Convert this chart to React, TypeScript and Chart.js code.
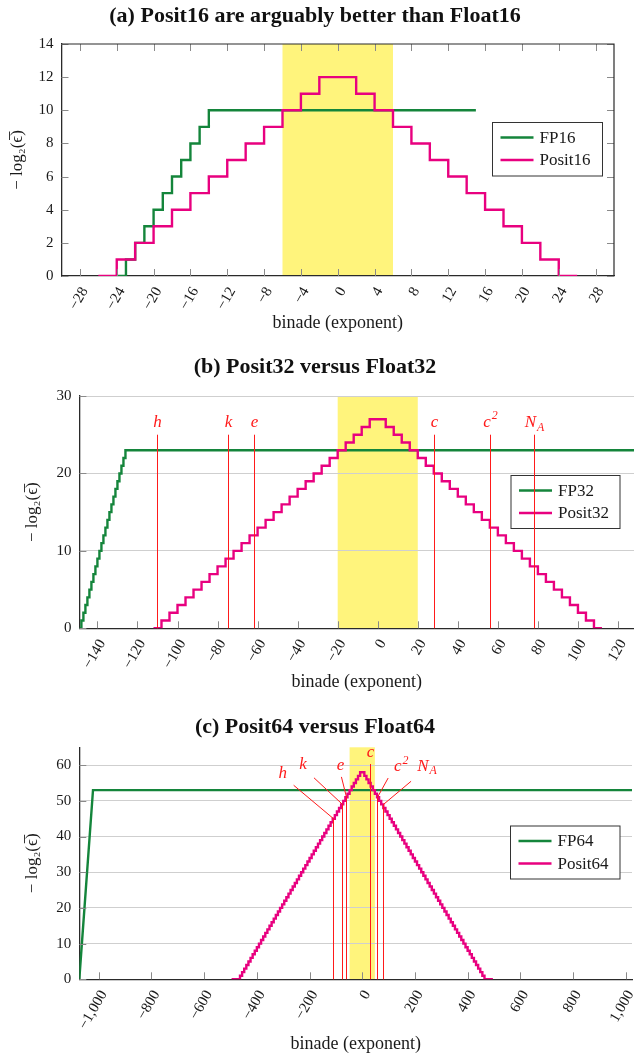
import { useEffect, useRef } from "react";
import { Chart, registerables } from "chart.js";

Chart.register(...registerables);

// ---------- data ----------

// (a) 16-bit: bits of precision per binade
const fp16Edges = [-24, -23, -22, -21, -20, -19, -18, -17, -16, -15, -14, 15];
const fp16Bits = [0, 1, 2, 3, 4, 5, 6, 7, 8, 9, 10];
const posit16Edges = [
	-26, -24, -22, -20, -18, -16, -14, -12, -10, -8, -6, -4, -2, 2, 4, 6, 8, 10, 12, 14, 16, 18, 20, 22, 24, 26,
];
const posit16Bits = [0, 1, 2, 3, 4, 5, 6, 7, 8, 9, 10, 11, 12, 11, 10, 9, 8, 7, 6, 5, 4, 3, 2, 1, 0];
const xTicks16 = [-28, -24, -20, -16, -12, -8, -4, 0, 4, 8, 12, 16, 20, 24, 28];
const yTicks16 = [0, 2, 4, 6, 8, 10, 12, 14];
const band16 = [-6, 6];

// (b) 32-bit
const fp32Edges = [
	-149, -148, -147, -146, -145, -144, -143, -142, -141, -140, -139, -138, -137, -136, -135, -134, -133, -132, -131,
	-130, -129, -128, -127, -126, 128,
];
const fp32Bits = [0, 1, 2, 3, 4, 5, 6, 7, 8, 9, 10, 11, 12, 13, 14, 15, 16, 17, 18, 19, 20, 21, 22, 23];
const posit32Edges = [
	-112, -108, -104, -100, -96, -92, -88, -84, -80, -76, -72, -68, -64, -60, -56, -52, -48, -44, -40, -36, -32, -28,
	-24, -20, -16, -12, -8, -4, 4, 8, 12, 16, 20, 24, 28, 32, 36, 40, 44, 48, 52, 56, 60, 64, 68, 72, 76, 80, 84, 88, 92,
	96, 100, 104, 108, 112,
];
const posit32Bits = [
	0, 1, 2, 3, 4, 5, 6, 7, 8, 9, 10, 11, 12, 13, 14, 15, 16, 17, 18, 19, 20, 21, 22, 23, 24, 25, 26, 27, 26, 25, 24, 23,
	22, 21, 20, 19, 18, 17, 16, 15, 14, 13, 12, 11, 10, 9, 8, 7, 6, 5, 4, 3, 2, 1, 0,
];
const xTicks32 = [-140, -120, -100, -80, -60, -40, -20, 0, 20, 40, 60, 80, 100, 120];
const yTicks32 = [0, 10, 20, 30];
const band32 = [-20, 20];

// (c) 64-bit
const fp64X = [-1074, -1022, 1024];
const fp64Bits = [0, 53, 53];
const posit64Edges = [
	-496, -464, -456, -448, -440, -432, -424, -416, -408, -400, -392, -384, -376, -368, -360, -352, -344, -336, -328,
	-320, -312, -304, -296, -288, -280, -272, -264, -256, -248, -240, -232, -224, -216, -208, -200, -192, -184, -176,
	-168, -160, -152, -144, -136, -128, -120, -112, -104, -96, -88, -80, -72, -64, -56, -48, -40, -32, -24, -16, -8, 8,
	16, 24, 32, 40, 48, 56, 64, 72, 80, 88, 96, 104, 112, 120, 128, 136, 144, 152, 160, 168, 176, 184, 192, 200, 208,
	216, 224, 232, 240, 248, 256, 264, 272, 280, 288, 296, 304, 312, 320, 328, 336, 344, 352, 360, 368, 376, 384, 392,
	400, 408, 416, 424, 432, 440, 448, 456, 464, 496,
];
const posit64Bits = [
	0, 1, 2, 3, 4, 5, 6, 7, 8, 9, 10, 11, 12, 13, 14, 15, 16, 17, 18, 19, 20, 21, 22, 23, 24, 25, 26, 27, 28, 29, 30, 31,
	32, 33, 34, 35, 36, 37, 38, 39, 40, 41, 42, 43, 44, 45, 46, 47, 48, 49, 50, 51, 52, 53, 54, 55, 56, 57, 58, 57, 56,
	55, 54, 53, 52, 51, 50, 49, 48, 47, 46, 45, 44, 43, 42, 41, 40, 39, 38, 37, 36, 35, 34, 33, 32, 31, 30, 29, 28, 27,
	26, 25, 24, 23, 22, 21, 20, 19, 18, 17, 16, 15, 14, 13, 12, 11, 10, 9, 8, 7, 6, 5, 4, 3, 2, 1, 0,
];
const xTicks64 = [-1000, -800, -600, -400, -200, 0, 200, 400, 600, 800, 1000];
const yTicks64 = [0, 10, 20, 30, 40, 50, 60];
const band64 = [-48, 48];

// physical constants: label and binade (log2, truncated)
const constantLabels = ["h", "k", "e", "c", "c^2", "N_A"];
const constantExps = [-110, -75, -62, 28, 56, 78];
const constantLineTop32 = 25;

// pin styling for panel (c): angle (deg), length (px), label offset (px)
const pinAngles = [140, 137, 104, 90, 61, 40];
const pinLengths = [52, 39, 21, 19, 22, 36];
const pinLabelOffsets = [
	[-11, -12],
	[-11, -13],
	[-1, -11],
	[0, -11],
	[13, -11],
	[16, -15],
];

// ---------- styling ----------
const FONT = '"Liberation Serif", "DejaVu Serif", serif';
const GREEN = "#14853b";
const PINK = "#e8007f";
const BAND = "#fff47c";
const RED = "#ff1a1a";
const AXIS = "#2a2a2a";
const TICK = "#8a8a8a";
const GRID = "#cfcfcf";
const Y_TITLE = "\u2212 log\u2082(\u03F5\u0305)";

type Pt = { x: number; y: number };
type Series = { label: string; color: string; points: Pt[]; stepped: boolean };
type Box = { left: number; top: number; right: number; bottom: number };
type PanelSpec = {
	title: string;
	titleY: number;
	height: number;
	area: Box;
	xMin: number;
	xMax: number;
	yMin: number;
	yMax: number;
	xTicks: number[];
	yTicks: number[];
	band: number[];
	series: Series[];
	frame: boolean;
	grid: boolean;
	legend: Box;
	constants: "none" | "lines" | "pins";
	xTitlePad: number;
	yTitlePad: number;
};

// one point per binade edge; the value holds until the next edge
function stepPoints(edges: number[], values: number[]): Pt[] {
	const pts = values.map((v, i) => ({ x: edges[i], y: v }));
	pts.push({ x: edges[edges.length - 1], y: values[values.length - 1] });
	return pts;
}

function valueAt(edges: number[], values: number[], x: number) {
	for (let i = 0; i < values.length; i++) {
		if (x >= edges[i] && x < edges[i + 1]) return values[i];
	}
	return 0;
}

function tickText(v: string | number) {
	const n = Number(v);
	const s = Math.abs(n).toLocaleString("en-US");
	return n < 0 ? `\u2212${s}` : s;
}

function drawMathLabel(ctx: CanvasRenderingContext2D, text: string, cx: number, cy: number, size: number) {
	const [base, sup] = text.split("^");
	const [b, sub] = base.split("_");
	const script = sup ?? sub ?? "";
	ctx.font = `italic ${size}px ${FONT}`;
	const wb = ctx.measureText(b).width;
	ctx.font = `italic ${size * 0.7}px ${FONT}`;
	const ws = script ? ctx.measureText(script).width + 1 : 0;
	const x0 = cx - (wb + ws) / 2;
	ctx.textAlign = "left";
	ctx.textBaseline = "middle";
	ctx.font = `italic ${size}px ${FONT}`;
	ctx.fillText(b, x0, cy);
	if (script) {
		ctx.font = `italic ${size * 0.7}px ${FONT}`;
		ctx.fillText(script, x0 + wb + 1, sup ? cy - size * 0.38 : cy + size * 0.3);
	}
}

const panels: PanelSpec[] = [
	{
		title: "(a) Posit16 are arguably better than Float16",
		titleY: 16,
		height: 345,
		area: { left: 61.5, top: 44, right: 614, bottom: 276 },
		xMin: -30,
		xMax: 30,
		yMin: 0,
		yMax: 14,
		xTicks: xTicks16,
		yTicks: yTicks16,
		band: band16,
		series: [
			{ label: "FP16", color: GREEN, points: stepPoints(fp16Edges, fp16Bits), stepped: true },
			{ label: "Posit16", color: PINK, points: stepPoints(posit16Edges, posit16Bits), stepped: true },
		],
		frame: true,
		grid: false,
		legend: { left: 492.5, top: 122.5, right: 602.5, bottom: 176 },
		constants: "none",
		xTitlePad: 11,
		yTitlePad: 7,
	},
	{
		title: "(b) Posit32 versus Float32",
		titleY: 22.5,
		height: 355,
		area: { left: 79.4, top: 51, right: 634, bottom: 283.3 },
		xMin: -149,
		xMax: 128,
		yMin: 0,
		yMax: 30,
		xTicks: xTicks32,
		yTicks: yTicks32,
		band: band32,
		series: [
			{ label: "FP32", color: GREEN, points: stepPoints(fp32Edges, fp32Bits), stepped: true },
			{ label: "Posit32", color: PINK, points: stepPoints(posit32Edges, posit32Bits), stepped: true },
		],
		frame: false,
		grid: true,
		legend: { left: 511, top: 130.5, right: 620, bottom: 183.5 },
		constants: "lines",
		xTitlePad: 7,
		yTitlePad: 22,
	},
	{
		title: "(c) Posit64 versus Float64",
		titleY: 27.5,
		height: 357,
		area: { left: 79.3, top: 47.3, right: 632, bottom: 279.3 },
		xMin: -1074,
		xMax: 1024,
		yMin: 0,
		yMax: 65,
		xTicks: xTicks64,
		yTicks: yTicks64,
		band: band64,
		series: [
			{ label: "FP64", color: GREEN, points: fp64X.map((x, i) => ({ x, y: fp64Bits[i] })), stepped: false },
			{ label: "Posit64", color: PINK, points: stepPoints(posit64Edges, posit64Bits), stepped: true },
		],
		frame: false,
		grid: true,
		legend: { left: 510.5, top: 126, right: 620, bottom: 179 },
		constants: "pins",
		xTitlePad: 2,
		yTitlePad: 22,
	},
];

function Panel({ spec }: { spec: PanelSpec }) {
	const canvasRef = useRef<HTMLCanvasElement | null>(null);

	useEffect(() => {
		if (!canvasRef.current) {
			return;
		}
		const s = spec;

		const decor = {
			id: "decor",
			beforeDraw(chart: Chart) {
				const { ctx, chartArea: a } = chart;
				const xs = chart.scales.x;
				const x0 = xs.getPixelForValue(s.band[0]);
				const x1 = xs.getPixelForValue(s.band[1]);
				ctx.save();
				ctx.fillStyle = "#ffffff";
				ctx.fillRect(0, 0, chart.width, chart.height);
				ctx.fillStyle = BAND;
				ctx.fillRect(x0, a.top, x1 - x0, a.bottom - a.top);
				ctx.restore();
			},
			afterDatasetsDraw(chart: Chart) {
				const { ctx, chartArea: a } = chart;
				const xs = chart.scales.x;
				const ys = chart.scales.y;
				ctx.save();
				// inner tick marks
				ctx.strokeStyle = TICK;
				ctx.lineWidth = 1;
				const L = 7;
				ctx.beginPath();
				for (const v of s.xTicks) {
					const px = Math.round(xs.getPixelForValue(v)) + 0.5;
					ctx.moveTo(px, a.bottom);
					ctx.lineTo(px, a.bottom - L);
					if (s.frame) {
						ctx.moveTo(px, a.top);
						ctx.lineTo(px, a.top + L);
					}
				}
				for (const v of s.yTicks) {
					const py = Math.round(ys.getPixelForValue(v)) + 0.5;
					ctx.moveTo(a.left, py);
					ctx.lineTo(a.left + L, py);
					if (s.frame) {
						ctx.moveTo(a.right, py);
						ctx.lineTo(a.right - L, py);
					}
				}
				ctx.stroke();
				// full frame for panel (a)
				if (s.frame) {
					ctx.strokeStyle = AXIS;
					ctx.lineWidth = 1.2;
					ctx.beginPath();
					ctx.moveTo(a.left, a.top);
					ctx.lineTo(a.right, a.top);
					ctx.lineTo(a.right, a.bottom);
					ctx.stroke();
				}
				// legend
				const lg = s.legend;
				ctx.fillStyle = "#ffffff";
				ctx.fillRect(lg.left, lg.top, lg.right - lg.left, lg.bottom - lg.top);
				ctx.strokeStyle = "#333333";
				ctx.lineWidth = 1;
				ctx.strokeRect(lg.left, lg.top, lg.right - lg.left, lg.bottom - lg.top);
				const rows = [15, 37.5];
				s.series.forEach((se, i) => {
					const y = lg.top + rows[i];
					ctx.strokeStyle = se.color;
					ctx.lineWidth = 2.4;
					ctx.beginPath();
					ctx.moveTo(lg.left + 8, y);
					ctx.lineTo(lg.left + 41, y);
					ctx.stroke();
					ctx.fillStyle = "#1a1a1a";
					ctx.font = `17px ${FONT}`;
					ctx.textAlign = "left";
					ctx.textBaseline = "middle";
					ctx.fillText(se.label, lg.left + 47, y + 1);
				});
				ctx.restore();
			},
			afterDraw(chart: Chart) {
				const { ctx } = chart;
				const xs = chart.scales.x;
				const ys = chart.scales.y;
				ctx.save();
				// physical constants
				if (s.constants !== "none") {
					const y0 = ys.getPixelForValue(0);
					constantLabels.forEach((label, i) => {
						const px = Math.round(xs.getPixelForValue(constantExps[i])) + 0.5;
						ctx.strokeStyle = RED;
						ctx.fillStyle = RED;
						ctx.lineWidth = 1;
						if (s.constants === "lines") {
							const y1 = ys.getPixelForValue(constantLineTop32);
							ctx.beginPath();
							ctx.moveTo(px, y0);
							ctx.lineTo(px, y1);
							ctx.stroke();
							drawMathLabel(ctx, label, px, y1 - 12, 17);
						} else {
							const py = ys.getPixelForValue(valueAt(posit64Edges, posit64Bits, constantExps[i]));
							const ang = (pinAngles[i] * Math.PI) / 180;
							const ex = px + pinLengths[i] * Math.cos(ang);
							const ey = py - pinLengths[i] * Math.sin(ang);
							ctx.beginPath();
							ctx.moveTo(px, y0);
							ctx.lineTo(px, py);
							ctx.lineTo(ex, ey);
							ctx.stroke();
							drawMathLabel(ctx, label, ex + pinLabelOffsets[i][0], ey + pinLabelOffsets[i][1], 17);
						}
					});
				}
				// panel title
				ctx.fillStyle = "#111111";
				ctx.font = `bold 22px ${FONT}`;
				ctx.textAlign = "center";
				ctx.textBaseline = "middle";
				ctx.fillText(s.title, 315, s.titleY);
				ctx.restore();
			},
		};

		const chart = new Chart(canvasRef.current, {
			type: "line",
			data: {
				datasets: s.series.map((se, i) => ({
					label: se.label,
					data: se.points,
					borderColor: se.color,
					backgroundColor: se.color,
					borderWidth: 2.4,
					pointRadius: 0,
					fill: false,
					tension: 0,
					stepped: se.stepped ? ("before" as const) : false,
					order: s.series.length - i,
				})),
			},
			options: {
				responsive: false,
				animation: false,
				events: [],
				layout: {
					padding: { top: s.area.top, right: 634 - s.area.right, bottom: 0, left: 0 },
				},
				plugins: {
					legend: { display: false },
					title: { display: false },
					tooltip: { enabled: false },
				},
				scales: {
					x: {
						type: "linear",
						min: s.xMin,
						max: s.xMax,
						afterBuildTicks: (scale: any) => {
							scale.ticks = s.xTicks.map((v) => ({ value: v }));
						},
						afterFit: (scale: any) => {
							scale.height = s.height - s.area.bottom;
							scale.paddingLeft = 0;
							scale.paddingRight = 0;
						},
						grid: { display: false, drawTicks: false },
						border: { display: true, color: AXIS, width: 1.3 },
						ticks: {
							autoSkip: false,
							minRotation: 60,
							maxRotation: 60,
							padding: 8,
							labelOffset: 5,
							color: "#1a1a1a",
							font: { family: FONT, size: 15 },
							callback: (v: string | number) => tickText(v),
						},
						title: {
							display: true,
							text: "binade (exponent)",
							color: "#1a1a1a",
							font: { family: FONT, size: 18 },
							padding: { top: 0, bottom: s.xTitlePad },
						},
					},
					y: {
						type: "linear",
						min: s.yMin,
						max: s.yMax,
						afterBuildTicks: (scale: any) => {
							scale.ticks = s.yTicks.map((v) => ({ value: v }));
						},
						afterFit: (scale: any) => {
							scale.width = s.area.left;
							scale.paddingTop = 0;
							scale.paddingBottom = 0;
						},
						grid: { display: s.grid, color: GRID, lineWidth: 1, drawTicks: false },
						border: { display: true, color: AXIS, width: 1.3 },
						ticks: {
							autoSkip: false,
							padding: 8,
							color: "#1a1a1a",
							font: { family: FONT, size: 15 },
							callback: (v: string | number) => tickText(v),
						},
						title: {
							display: true,
							text: Y_TITLE,
							color: "#1a1a1a",
							font: { family: FONT, size: 17 },
							padding: { top: s.yTitlePad, bottom: 0 },
						},
					},
				},
			},
			plugins: [decor],
		});

		return () => {
			chart.destroy();
		};
	}, [spec]);

	return (
		<canvas
			ref={canvasRef}
			width={634}
			height={spec.height}
			style={{ display: "block", width: 634, height: spec.height }}
		/>
	);
}

export default function App() {
	return (
		<div style={{ position: "absolute", left: 0, top: 0, width: 634, background: "#ffffff" }}>
			{panels.map((p) => (
				<Panel key={p.title} spec={p} />
			))}
		</div>
	);
}
